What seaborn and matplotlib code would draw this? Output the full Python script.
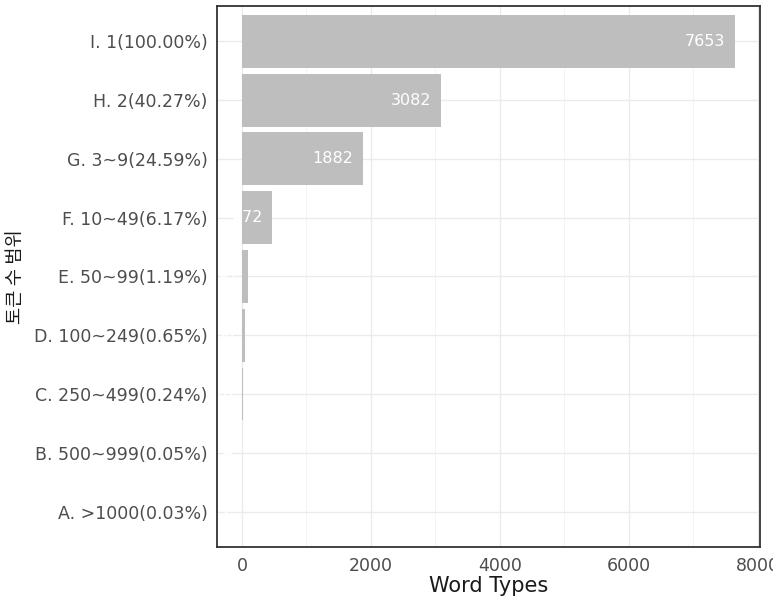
import matplotlib
matplotlib.use("Agg")
import matplotlib.pyplot as plt
import seaborn as sns
import pandas as pd
from matplotlib.ticker import MultipleLocator

categories = ["I. 1(100.00%)", "H. 2(40.27%)", "G. 3~9(24.59%)", "F. 10~49(6.17%)",
              "E. 50~99(1.19%)", "D. 100~249(0.65%)", "C. 250~499(0.24%)",
              "B. 500~999(0.05%)", "A. >1000(0.03%)"]
values = [7653, 3082, 1882, 472, 91, 50, 18, 4, 2]

sns.set_style("white")
plt.rcParams['font.family'] = ['DejaVu Sans', 'Noto Sans CJK KR']

df = pd.DataFrame({"range": categories, "types": values})

fig = plt.figure(figsize=(7.73, 6.11), dpi=100)
ax = fig.add_axes([0.281, 0.105, 0.702, 0.885])

sns.barplot(data=df, x="types", y="range", orient="h", color="#BEBEBE",
            saturation=1, width=0.9, linewidth=0, ax=ax, zorder=2)

ax.set_xlim(-383, 8036)
ax.set_ylim(len(categories) - 0.4, -0.6)
ax.xaxis.set_major_locator(MultipleLocator(2000))
ax.xaxis.set_minor_locator(MultipleLocator(1000))
ax.grid(True, which="major", color="#EBEBEB", linewidth=1.0, zorder=0)
ax.grid(True, which="minor", axis="x", color="#F2F2F2", linewidth=0.6, zorder=0)
ax.set_axisbelow(True)

for i, v in enumerate(values):
    ax.text(v - 150, i, str(v), ha="right", va="center", color="white",
            fontsize=11.5, clip_on=True, zorder=2.2)

for s in ax.spines.values():
    s.set_visible(True)
    s.set_color("#333333")
    s.set_linewidth(1.3)
    s.set_zorder(5)

ax.tick_params(axis="both", which="major", direction="out", length=4, width=1.1,
               color="#333333", labelcolor="#4D4D4D", labelsize=12.5, pad=3)
ax.tick_params(axis="both", which="minor", length=0)

ax.set_xlabel("Word Types", fontsize=15, color="#1A1A1A", labelpad=1)
ax.set_ylabel("토큰 수 범위", fontsize=13.5, color="#1A1A1A",
              family=['Noto Sans CJK KR', 'DejaVu Sans'])
ax.yaxis.set_label_coords(-0.352, 0.5)

fig.savefig("out.png", dpi=100)
